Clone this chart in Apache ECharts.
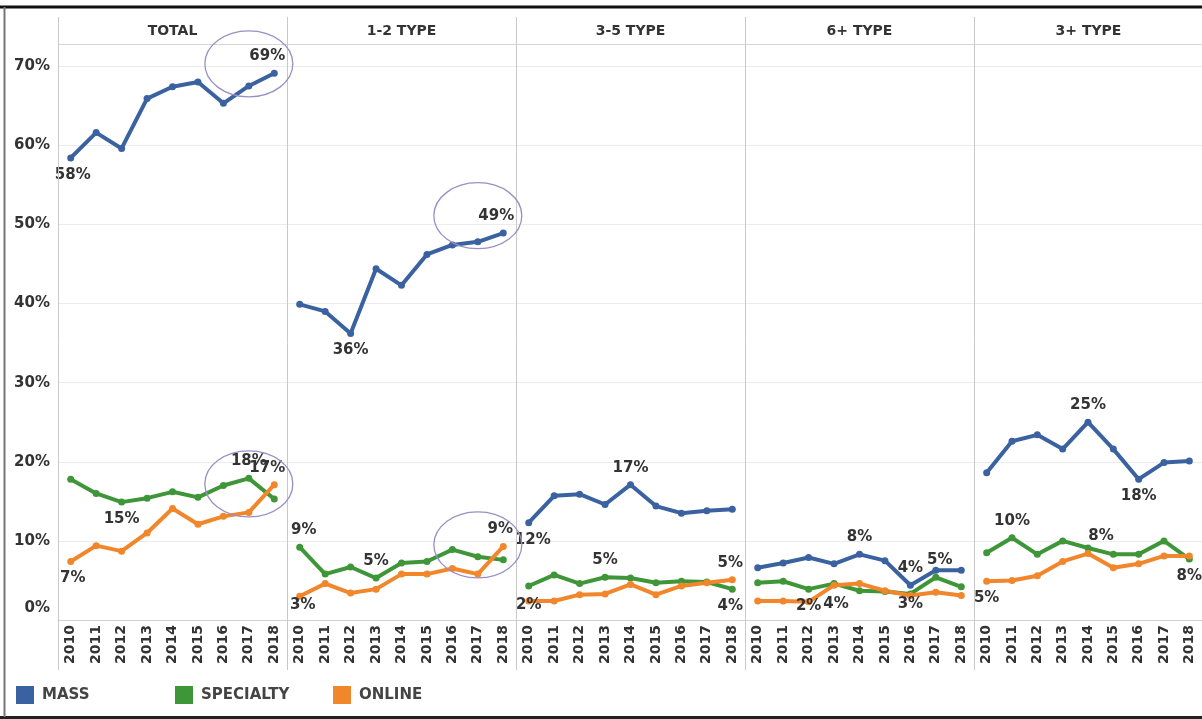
<!DOCTYPE html>
<html>
<head>
<meta charset="utf-8">
<script src="https://cdn.jsdelivr.net/npm/echarts@6/dist/echarts.min.js"></script>
<style>
  html, body { margin: 0; padding: 0; background: #fff; }
  #chart { width: 1202px; height: 719px; }
</style>
</head>
<body>
<div id="chart"></div>
<script>
// Categories
const years = ['2010', '2011', '2012', '2013', '2014', '2015', '2016', '2017', '2018'];
const panelTitles = ['TOTAL', '1-2 TYPE', '3-5 TYPE', '6+ TYPE', '3+ TYPE'];
const channelNames = ['MASS', 'SPECIALTY', 'ONLINE'];
const yTicks = [0, 10, 20, 30, 40, 50, 60, 70];

// Share of purchases (%) per channel, one array per panel
const totalMass       = [58.4, 61.6, 59.6, 65.9, 67.4, 68.0, 65.3, 67.5, 69.1];
const totalSpecialty  = [17.8, 16.0, 14.9, 15.4, 16.2, 15.5, 17.0, 17.9, 15.3];
const totalOnline     = [7.4, 9.4, 8.7, 11.0, 14.1, 12.1, 13.1, 13.6, 17.1];

const type12Mass      = [39.9, 39.0, 36.2, 44.4, 42.3, 46.2, 47.4, 47.8, 48.9];
const type12Specialty = [9.2, 5.8, 6.7, 5.3, 7.2, 7.4, 8.9, 8.0, 7.6];
const type12Online    = [3.0, 4.6, 3.4, 3.9, 5.8, 5.8, 6.5, 5.8, 9.3];

const type35Mass      = [12.3, 15.7, 15.9, 14.6, 17.1, 14.4, 13.5, 13.8, 14.0];
const type35Specialty = [4.3, 5.7, 4.6, 5.4, 5.3, 4.7, 4.9, 4.8, 3.9];
const type35Online    = [2.4, 2.4, 3.2, 3.3, 4.5, 3.2, 4.3, 4.7, 5.1];

const type6Mass       = [6.6, 7.2, 7.9, 7.1, 8.3, 7.5, 4.4, 6.3, 6.3];
const type6Specialty  = [4.7, 4.9, 3.9, 4.6, 3.7, 3.6, 3.3, 5.4, 4.2];
const type6Online     = [2.4, 2.4, 2.3, 4.4, 4.6, 3.7, 3.1, 3.5, 3.1];

const type3Mass       = [18.6, 22.6, 23.4, 21.6, 25.0, 21.6, 17.8, 19.9, 20.1];
const type3Specialty  = [8.5, 10.4, 8.3, 10.0, 9.1, 8.3, 8.3, 10.0, 7.7];
const type3Online     = [4.9, 5.0, 5.6, 7.4, 8.4, 6.6, 7.1, 8.1, 8.1];

const panelSeries = [
  [totalMass, totalSpecialty, totalOnline],
  [type12Mass, type12Specialty, type12Online],
  [type35Mass, type35Specialty, type35Online],
  [type6Mass, type6Specialty, type6Online],
  [type3Mass, type3Specialty, type3Online]
];

// Which points carry a value label, and where the label sits
const labelSpecs = [
  { panel: 0, ch: 0, i: 0, pos: 'bottom', off: [2, 0] },
  { panel: 0, ch: 0, i: 8, pos: 'top', off: [-7, 0] },
  { panel: 0, ch: 1, i: 2, pos: 'bottom' },
  { panel: 0, ch: 1, i: 7, pos: 'top' },
  { panel: 0, ch: 2, i: 8, pos: 'top', off: [-7, 0] },
  { panel: 0, ch: 2, i: 0, pos: 'bottom', off: [2, 0] },
  { panel: 1, ch: 0, i: 2, pos: 'bottom' },
  { panel: 1, ch: 0, i: 8, pos: 'top', off: [-7, 0] },
  { panel: 1, ch: 1, i: 0, pos: 'top', off: [4, 0] },
  { panel: 1, ch: 1, i: 3, pos: 'top' },
  { panel: 1, ch: 2, i: 0, pos: 'bottom', dist: -2, off: [3, 0] },
  { panel: 1, ch: 2, i: 8, pos: 'top', off: [-3, 0] },
  { panel: 2, ch: 0, i: 0, pos: 'bottom', off: [4, 0] },
  { panel: 2, ch: 0, i: 4, pos: 'top' },
  { panel: 2, ch: 1, i: 3, pos: 'top' },
  { panel: 2, ch: 1, i: 8, pos: 'bottom', off: [-2, 0] },
  { panel: 2, ch: 2, i: 0, pos: 'bottom', dist: -7 },
  { panel: 2, ch: 2, i: 8, pos: 'top', off: [-2, 0] },
  { panel: 3, ch: 0, i: 4, pos: 'top' },
  { panel: 3, ch: 0, i: 6, pos: 'top' },
  { panel: 3, ch: 1, i: 7, pos: 'top', off: [4, 0] },
  { panel: 3, ch: 2, i: 2, pos: 'bottom', dist: -7 },
  { panel: 3, ch: 2, i: 3, pos: 'bottom', dist: 8, off: [2, 0] },
  { panel: 3, ch: 2, i: 6, pos: 'bottom', dist: -2 },
  { panel: 4, ch: 0, i: 4, pos: 'top' },
  { panel: 4, ch: 0, i: 6, pos: 'bottom' },
  { panel: 4, ch: 1, i: 1, pos: 'top' },
  { panel: 4, ch: 1, i: 8, pos: 'bottom' },
  { panel: 4, ch: 2, i: 0, pos: 'bottom' },
  { panel: 4, ch: 2, i: 4, pos: 'top', off: [13, 0] }
];

// Highlight rings: [panel, year index, value]
const highlights = [
  [0, 7, 70.3],
  [0, 7, 17.2],
  [1, 7, 51.1],
  [1, 7, 9.5]
];

const colors = ['#3b62a0', '#3f9638', '#f2862b'];
const FONT = '"DejaVu Sans", sans-serif';
const TEXT = '#333';

// Layout
const X0 = 58, PW = 229, TOP = 44, BOTTOM = 620, HEAD = 17, DIV_BOTTOM = 670;
const Y_MAX = 72.8;

const grids = [], xAxes = [], yAxes = [], series = [];
panelTitles.forEach((title, p) => {
  grids.push({ left: X0 + p * PW, width: PW, top: TOP, height: BOTTOM - TOP, containLabel: false });
  xAxes.push({
    type: 'category', gridIndex: p, data: years, boundaryGap: true,
    axisTick: { show: false },
    axisLine: { show: true, lineStyle: { color: '#d2d2d2', width: 1 } },
    axisLabel: { rotate: 90, interval: 0, margin: 5, fontSize: 14, fontWeight: 'bold', color: TEXT, fontFamily: FONT }
  });
  yAxes.push({
    type: 'value', gridIndex: p, min: 0, max: Y_MAX, interval: 10,
    axisLine: { show: false }, axisTick: { show: false },
    splitLine: { show: true, lineStyle: { color: '#ececec', width: 1 } },
    axisLabel: {
      show: p === 0, margin: 8, fontSize: 15, fontWeight: 'bold', color: TEXT, fontFamily: FONT, showMaxLabel: false,
      formatter: v => yTicks.includes(v) ? (v === 0 ? '{z|0%}' : v + '%') : '',
      rich: { z: { fontSize: 15, fontWeight: 'bold', color: TEXT, fontFamily: FONT, padding: [0, 0, 24, 0] } }
    }
  });
  panelSeries[p].forEach((vals, ch) => {
    const data = vals.map((v, i) => {
      const spec = labelSpecs.find(s => s.panel === p && s.ch === ch && s.i === i);
      if (!spec) return v;
      return {
        value: v,
        label: {
          show: true, position: spec.pos, offset: spec.off || [0, 0],
          distance: spec.dist !== undefined ? spec.dist : 6
        }
      };
    });
    series.push({
      type: 'line', name: channelNames[ch], xAxisIndex: p, yAxisIndex: p,
      data, color: colors[ch],
      symbol: 'circle', symbolSize: 7, showAllSymbol: true,
      lineStyle: { width: 4, color: colors[ch] },
      itemStyle: { color: colors[ch] },
      label: {
        show: false, fontSize: 15, fontWeight: 'bold', color: TEXT, fontFamily: FONT,
        formatter: d => Math.round(d.value) + '%'
      },
      emphasis: { disabled: true },
      animation: false,
      z: 3
    });
  });
});

const legendX = [16, 175, 333];
const legends = channelNames.map((n, k) => ({
  data: [n], left: legendX[k], top: 686, padding: 0, icon: 'rect', itemWidth: 18, itemHeight: 18,
  itemGap: 0, selectedMode: false,
  textStyle: { fontSize: 15, fontWeight: 'bold', color: '#444', fontFamily: FONT, padding: [0, 0, 0, 3] }
}));

const chart = echarts.init(document.getElementById('chart'), null, { renderer: 'canvas' });
chart.setOption({
  backgroundColor: '#fff',
  animation: false,
  grid: grids, xAxis: xAxes, yAxis: yAxes, series, legend: legends
});

// Frame, panel dividers, header band, panel titles and highlight rings
const gfx = [];
gfx.push({ type: 'line', shape: { x1: 0, y1: 7, x2: 1202, y2: 7 }, style: { stroke: '#111', lineWidth: 3 }, z: 10 });
gfx.push({ type: 'line', shape: { x1: 0, y1: 717.5, x2: 1202, y2: 717.5 }, style: { stroke: '#222', lineWidth: 3 }, z: 10 });
gfx.push({ type: 'line', shape: { x1: 4.5, y1: 7, x2: 4.5, y2: 717 }, style: { stroke: '#777', lineWidth: 2 }, z: 10 });
gfx.push({ type: 'line', shape: { x1: X0, y1: TOP + 0.5, x2: 1202, y2: TOP + 0.5 }, style: { stroke: '#d6d6d6', lineWidth: 1 }, z: 5 });
for (let p = 0; p < panelTitles.length; p++) {
  const x = X0 + p * PW + 0.5;
  gfx.push({ type: 'line', shape: { x1: x, y1: HEAD, x2: x, y2: DIV_BOTTOM }, style: { stroke: '#c9c9c9', lineWidth: 1 }, z: 5 });
  gfx.push({
    type: 'text', x: X0 + p * PW + PW / 2, y: (HEAD + TOP) / 2 + 1,
    style: { text: panelTitles[p], fill: TEXT, font: 'bold 14px ' + FONT, align: 'center', verticalAlign: 'middle' },
    z: 5
  });
}
highlights.forEach(([p, idx, val]) => {
  const pt = chart.convertToPixel({ xAxisIndex: p, yAxisIndex: p }, [idx, val]);
  gfx.push({
    type: 'ellipse', shape: { cx: pt[0], cy: pt[1], rx: 44, ry: 33 },
    style: { fill: 'none', stroke: '#9a8fc4', lineWidth: 1.3 }, z: 20
  });
});
chart.setOption({ graphic: gfx });
</script>
</body>
</html>
